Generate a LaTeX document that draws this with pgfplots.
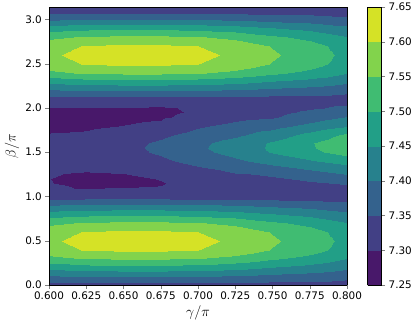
\documentclass[border=0pt]{standalone}
\usepackage{pgfplots}
\pgfplotsset{compat=1.18}
\usepackage{fontspec}
\setmainfont{DejaVu Sans}
\begin{document}
\fontsize{10.4}{12}\selectfont
\begin{tikzpicture}
\begin{axis}[
  name=main,
  view={0}{90},
  scale only axis,
  width=298pt, height=278pt,
  xmin=0.6, xmax=0.8, ymin=0, ymax=3.1416,
  xtick={0.6,0.625,0.65,0.675,0.7,0.725,0.75,0.775,0.8},
  xticklabels={0.600,0.625,0.650,0.675,0.700,0.725,0.750,0.775,0.800},
  ytick={0,0.5,1,1.5,2,2.5,3},
  yticklabels={0.0,0.5,1.0,1.5,2.0,2.5,3.0},
  tick pos=left, tick align=outside, major tick length=3.5pt,
  tick label style={font=\fontsize{10.4}{12}\selectfont},
  label style={font=\fontsize{13.5}{16}\selectfont},
  xlabel={$\gamma/\pi$}, ylabel={$\beta/\pi$},
  xlabel style={at={(axis description cs:0.5,-0.1)}, anchor=center},
  ylabel style={at={(axis description cs:-0.124,0.5)}, anchor=center},
  axis line style={line width=0.6pt},
  point meta min=7.25, point meta max=7.65,
  colormap={cf}{rgb255(0)=(72,24,106) rgb255(1)=(66,64,133) rgb255(2)=(52,98,141) rgb255(3)=(39,129,141) rgb255(4)=(34,159,135) rgb255(5)=(64,188,114) rgb255(6)=(130,211,76) rgb255(7)=(213,226,38) rgb255(8)=(213,226,38)},
  colormap access=piecewise constant,
  colorbar,
  colorbar style={
    scale only axis,
    width=14pt,
    at={(parent axis.north east)}, anchor=north west, xshift=12pt,
    colormap access=piecewise constant,
    ytick={7.25,7.3,7.35,7.4,7.45,7.5,7.55,7.6,7.65},
    yticklabels={7.25,7.30,7.35,7.40,7.45,7.50,7.55,7.60,7.65},
    ytick pos=right, yticklabel pos=right, tick align=outside,
    major tick length=3.5pt,
    tick label style={font=\fontsize{10.4}{12}\selectfont},
    axis line style={line width=0.6pt},
  },
]
\addplot3[surf, shader=interp, mesh/cols=9] table {
x y z
0.600 0.0 7.3309
0.625 0.0 7.3318
0.650 0.0 7.3320
0.675 0.0 7.3320
0.700 0.0 7.3317
0.725 0.0 7.3309
0.750 0.0 7.3294
0.775 0.0 7.3283
0.800 0.0 7.3266
0.600 0.1 7.3981
0.625 0.1 7.4047
0.650 0.1 7.4058
0.675 0.1 7.4058
0.700 0.1 7.4038
0.725 0.1 7.3979
0.750 0.1 7.3877
0.775 0.1 7.3797
0.800 0.1 7.3674
0.600 0.2 7.4710
0.625 0.2 7.4837
0.650 0.2 7.4860
0.675 0.2 7.4860
0.700 0.2 7.4821
0.725 0.2 7.4706
0.750 0.2 7.4510
0.775 0.2 7.4354
0.800 0.2 7.4116
0.600 0.3 7.5376
0.625 0.3 7.5560
0.650 0.3 7.5592
0.675 0.3 7.5592
0.700 0.3 7.5536
0.725 0.3 7.5371
0.750 0.3 7.5088
0.775 0.3 7.4864
0.800 0.3 7.4520
0.600 0.4 7.5811
0.625 0.4 7.6032
0.650 0.4 7.6070
0.675 0.4 7.6070
0.700 0.4 7.6003
0.725 0.4 7.5805
0.750 0.4 7.5466
0.775 0.4 7.5197
0.800 0.4 7.4784
0.600 0.5 7.5920
0.625 0.5 7.6150
0.650 0.5 7.6190
0.675 0.5 7.6190
0.700 0.5 7.6120
0.725 0.5 7.5914
0.750 0.5 7.5560
0.775 0.5 7.5280
0.800 0.5 7.4850
0.600 0.6 7.5811
0.625 0.6 7.6032
0.650 0.6 7.6070
0.675 0.6 7.6070
0.700 0.6 7.6003
0.725 0.6 7.5805
0.750 0.6 7.5466
0.775 0.6 7.5197
0.800 0.6 7.4784
0.600 0.7 7.5376
0.625 0.7 7.5560
0.650 0.7 7.5592
0.675 0.7 7.5592
0.700 0.7 7.5536
0.725 0.7 7.5371
0.750 0.7 7.5088
0.775 0.7 7.4864
0.800 0.7 7.4520
0.600 0.8 7.4710
0.625 0.8 7.4837
0.650 0.8 7.4860
0.675 0.8 7.4860
0.700 0.8 7.4821
0.725 0.8 7.4706
0.750 0.8 7.4510
0.775 0.8 7.4354
0.800 0.8 7.4116
0.600 0.9 7.3981
0.625 0.9 7.4047
0.650 0.9 7.4058
0.675 0.9 7.4058
0.700 0.9 7.4038
0.725 0.9 7.3979
0.750 0.9 7.3877
0.775 0.9 7.3797
0.800 0.9 7.3674
0.600 1.0 7.3309
0.625 1.0 7.3318
0.650 1.0 7.3320
0.675 1.0 7.3320
0.700 1.0 7.3317
0.725 1.0 7.3309
0.750 1.0 7.3294
0.775 1.0 7.3283
0.800 1.0 7.3266
0.600 1.1 7.3020
0.625 1.1 7.2990
0.650 1.1 7.3010
0.675 1.1 7.3015
0.700 1.1 7.3100
0.725 1.1 7.3200
0.750 1.1 7.3250
0.775 1.1 7.3315
0.800 1.1 7.3380
0.600 1.15 7.3010
0.625 1.15 7.2920
0.650 1.15 7.2950
0.675 1.15 7.2985
0.700 1.15 7.3120
0.725 1.15 7.3250
0.750 1.15 7.3320
0.775 1.15 7.3440
0.800 1.15 7.3560
0.600 1.2 7.3005
0.625 1.2 7.2880
0.650 1.2 7.2920
0.675 1.2 7.3015
0.700 1.2 7.3180
0.725 1.2 7.3350
0.750 1.2 7.3405
0.775 1.2 7.3593
0.800 1.2 7.3780
0.600 1.3 7.3080
0.625 1.3 7.3030
0.650 1.3 7.3050
0.675 1.3 7.3150
0.700 1.3 7.3380
0.725 1.3 7.3580
0.750 1.3 7.3776
0.775 1.3 7.3993
0.800 1.3 7.4210
0.600 1.4 7.3130
0.625 1.4 7.3150
0.650 1.4 7.3250
0.675 1.4 7.3400
0.700 1.4 7.3680
0.725 1.4 7.3914
0.750 1.4 7.4180
0.775 1.4 7.4450
0.800 1.4 7.4720
0.600 1.5 7.3160
0.625 1.5 7.3220
0.650 1.5 7.3330
0.675 1.5 7.3580
0.700 1.5 7.3880
0.725 1.5 7.4160
0.750 1.5 7.4550
0.775 1.5 7.4880
0.800 1.5 7.5210
0.600 1.55 7.3160
0.625 1.55 7.3230
0.650 1.55 7.3350
0.675 1.55 7.3620
0.700 1.55 7.3930
0.725 1.55 7.4210
0.750 1.55 7.4590
0.775 1.55 7.4950
0.800 1.55 7.5310
0.600 1.6 7.3130
0.625 1.6 7.3210
0.650 1.6 7.3330
0.675 1.6 7.3580
0.700 1.6 7.3900
0.725 1.6 7.4180
0.750 1.6 7.4570
0.775 1.6 7.4960
0.800 1.6 7.5350
0.600 1.7 7.3030
0.625 1.7 7.3060
0.650 1.7 7.3180
0.675 1.7 7.3400
0.700 1.7 7.3700
0.725 1.7 7.3914
0.750 1.7 7.4240
0.775 1.7 7.4670
0.800 1.7 7.5100
0.600 1.8 7.2890
0.625 1.8 7.2930
0.650 1.8 7.3010
0.675 1.8 7.3100
0.700 1.8 7.3430
0.725 1.8 7.3650
0.750 1.8 7.3830
0.775 1.8 7.4145
0.800 1.8 7.4460
0.600 1.9 7.2860
0.625 1.9 7.2860
0.650 1.9 7.2890
0.675 1.9 7.2950
0.700 1.9 7.3120
0.725 1.9 7.3350
0.750 1.9 7.3455
0.775 1.9 7.3738
0.800 1.9 7.4020
0.600 1.95 7.2900
0.625 1.95 7.2900
0.650 1.95 7.2910
0.675 1.95 7.2920
0.700 1.95 7.3050
0.725 1.95 7.3260
0.750 1.95 7.3360
0.775 1.95 7.3580
0.800 1.95 7.3800
0.600 2.0 7.2990
0.625 2.0 7.2980
0.650 2.0 7.2990
0.675 2.0 7.2950
0.700 2.0 7.3060
0.725 2.0 7.3220
0.750 2.0 7.3300
0.775 2.0 7.3445
0.800 2.0 7.3590
0.600 2.1 7.3309
0.625 2.1 7.3318
0.650 2.1 7.3320
0.675 2.1 7.3320
0.700 2.1 7.3317
0.725 2.1 7.3309
0.750 2.1 7.3294
0.775 2.1 7.3283
0.800 2.1 7.3266
0.600 2.2 7.3981
0.625 2.2 7.4047
0.650 2.2 7.4058
0.675 2.2 7.4058
0.700 2.2 7.4038
0.725 2.2 7.3979
0.750 2.2 7.3877
0.775 2.2 7.3797
0.800 2.2 7.3674
0.600 2.3 7.4710
0.625 2.3 7.4837
0.650 2.3 7.4860
0.675 2.3 7.4860
0.700 2.3 7.4821
0.725 2.3 7.4706
0.750 2.3 7.4510
0.775 2.3 7.4354
0.800 2.3 7.4116
0.600 2.4 7.5376
0.625 2.4 7.5560
0.650 2.4 7.5592
0.675 2.4 7.5592
0.700 2.4 7.5536
0.725 2.4 7.5371
0.750 2.4 7.5088
0.775 2.4 7.4864
0.800 2.4 7.4520
0.600 2.5 7.5811
0.625 2.5 7.6032
0.650 2.5 7.6070
0.675 2.5 7.6070
0.700 2.5 7.6003
0.725 2.5 7.5805
0.750 2.5 7.5466
0.775 2.5 7.5197
0.800 2.5 7.4784
0.600 2.6 7.5920
0.625 2.6 7.6150
0.650 2.6 7.6190
0.675 2.6 7.6190
0.700 2.6 7.6120
0.725 2.6 7.5914
0.750 2.6 7.5560
0.775 2.6 7.5280
0.800 2.6 7.4850
0.600 2.7 7.5811
0.625 2.7 7.6032
0.650 2.7 7.6070
0.675 2.7 7.6070
0.700 2.7 7.6003
0.725 2.7 7.5805
0.750 2.7 7.5466
0.775 2.7 7.5197
0.800 2.7 7.4784
0.600 2.8 7.5376
0.625 2.8 7.5560
0.650 2.8 7.5592
0.675 2.8 7.5592
0.700 2.8 7.5536
0.725 2.8 7.5371
0.750 2.8 7.5088
0.775 2.8 7.4864
0.800 2.8 7.4520
0.600 2.9 7.4710
0.625 2.9 7.4837
0.650 2.9 7.4860
0.675 2.9 7.4860
0.700 2.9 7.4821
0.725 2.9 7.4706
0.750 2.9 7.4510
0.775 2.9 7.4354
0.800 2.9 7.4116
0.600 3.0 7.3981
0.625 3.0 7.4047
0.650 3.0 7.4058
0.675 3.0 7.4058
0.700 3.0 7.4038
0.725 3.0 7.3979
0.750 3.0 7.3877
0.775 3.0 7.3797
0.800 3.0 7.3674
0.600 3.1 7.3309
0.625 3.1 7.3318
0.650 3.1 7.3320
0.675 3.1 7.3320
0.700 3.1 7.3317
0.725 3.1 7.3309
0.750 3.1 7.3294
0.775 3.1 7.3283
0.800 3.1 7.3266
0.600 3.1416 7.3118
0.625 3.1416 7.3112
0.650 3.1416 7.3110
0.675 3.1416 7.3110
0.700 3.1416 7.3112
0.725 3.1416 7.3119
0.750 3.1416 7.3129
0.775 3.1416 7.3138
0.800 3.1416 7.3151
};
\end{axis}
\pgfresetboundingbox
\path (main.south west) ++(-49pt,-40pt) rectangle ++(415pt,325pt);
\end{tikzpicture}
\end{document}
